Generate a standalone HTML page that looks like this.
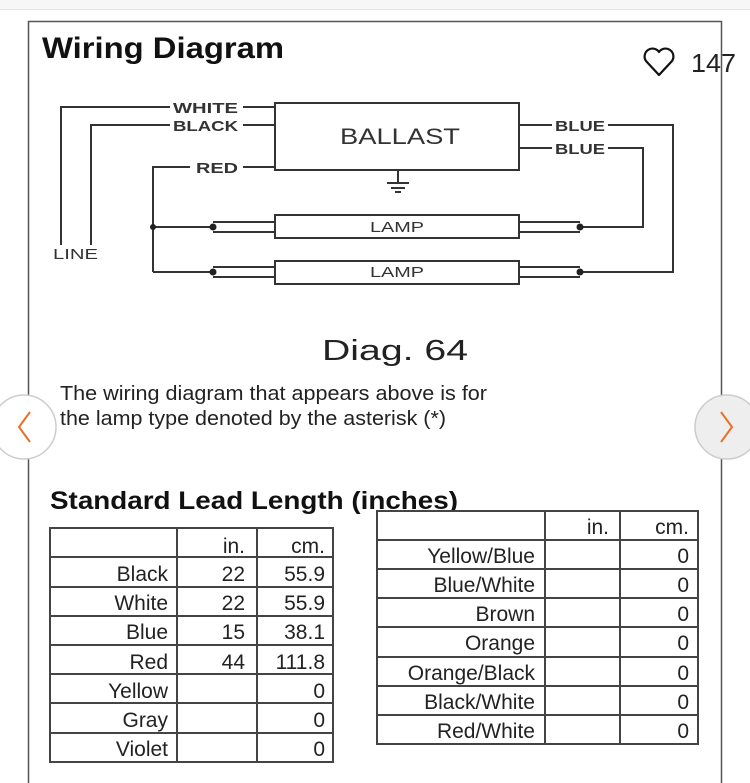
<!DOCTYPE html>
<html><head><meta charset="utf-8"><style>
html,body{margin:0;padding:0;background:#fff;width:750px;height:783px;overflow:hidden}
svg{display:block}
text{font-family:"Liberation Sans",Arial,sans-serif}
</style></head><body>
<svg width="750" height="783" viewBox="0 0 750 783" xmlns="http://www.w3.org/2000/svg">
<rect x="0" y="0" width="750" height="9" fill="#f7f7f7"/>
<line x1="0" y1="9.5" x2="750" y2="9.5" stroke="#e8e8e8"/>
<path d="M28.5 783 V21.5 H721.5 V783" fill="none" stroke="#555" stroke-width="1.5"/>
<text x="42" y="58" font-size="30" font-weight="bold" fill="#111" textLength="242" lengthAdjust="spacingAndGlyphs">Wiring Diagram</text>
<path d="M659 75 L646 61 A7.5 7.5 0 0 1 659 52 A7.5 7.5 0 0 1 672 61 Z" fill="none" stroke="#111" stroke-width="2.2" stroke-linejoin="round"/>
<text x="691" y="72" font-size="26" fill="#222" textLength="45" lengthAdjust="spacingAndGlyphs">147</text>

<g stroke="#333" stroke-width="2" fill="none">
<rect x="275" y="103" width="244" height="67"/>
<path d="M61 245 V107 H170 M243 107 H275"/>
<path d="M91 245 V125 H170 M243 125 H275"/>
<path d="M153 272 V167 H190 M243 167 H275"/>
<path d="M398 170 V183 M387 183 H409 M391 188 H405 M395 192 H401"/>
<rect x="275" y="215" width="244" height="23"/>
<rect x="275" y="261" width="244" height="23"/>
<path d="M213 222 H275 M213 232 H275 M519 222 H580 M519 232 H580"/>
<path d="M213 267 H275 M213 277 H275 M519 267 H580 M519 277 H580"/>
<path d="M153 227 H213 M153 272 H213"/>
<path d="M519 125 H552 M608 125 H673 V272 H580"/>
<path d="M519 148 H552 M608 148 H643 V227 H580"/>
</g>
<g fill="#222">
<circle cx="153" cy="227" r="3"/><circle cx="213" cy="227" r="3.5"/><circle cx="213" cy="272" r="3.5"/>
<circle cx="580" cy="227" r="3.5"/><circle cx="580" cy="272" r="3.5"/>
</g>
<g font-size="15" font-weight="bold" fill="#333" lengthAdjust="spacingAndGlyphs">
<text x="173" y="113" textLength="65" lengthAdjust="spacingAndGlyphs">WHITE</text>
<text x="173" y="131" textLength="65" lengthAdjust="spacingAndGlyphs">BLACK</text>
<text x="196" y="173" textLength="42" lengthAdjust="spacingAndGlyphs">RED</text>
<text x="555" y="131" textLength="50" lengthAdjust="spacingAndGlyphs">BLUE</text>
<text x="555" y="154" textLength="50" lengthAdjust="spacingAndGlyphs">BLUE</text>
<text x="53" y="259" font-weight="normal" textLength="45" lengthAdjust="spacingAndGlyphs">LINE</text>
<text x="370" y="232" font-weight="normal" textLength="54" lengthAdjust="spacingAndGlyphs">LAMP</text>
<text x="370" y="277" font-weight="normal" textLength="54" lengthAdjust="spacingAndGlyphs">LAMP</text>
</g>
<text x="340" y="144" font-size="22" fill="#333" textLength="120" lengthAdjust="spacingAndGlyphs">BALLAST</text>
<text x="322" y="360" font-size="29" fill="#222" textLength="146" lengthAdjust="spacingAndGlyphs">Diag. 64</text>
<text x="60" y="400" font-size="20" fill="#222" textLength="427" lengthAdjust="spacingAndGlyphs">The wiring diagram that appears above is for</text>
<text x="60" y="425" font-size="20" fill="#222" textLength="386" lengthAdjust="spacingAndGlyphs">the lamp type denoted by the asterisk (*)</text>
<text x="50" y="509" font-size="25" font-weight="bold" fill="#111" textLength="408" lengthAdjust="spacingAndGlyphs">Standard Lead Length (inches)</text>

<g stroke="#444" stroke-width="2" fill="none">
<rect x="377" y="511" width="321" height="233" fill="#fff"/>
<path d="M545 511 V744 M620 511 V744"/>
<path d="M377 540 H698 M377 569 H698 M377 598 H698 M377 627 H698 M377 657 H698 M377 686 H698 M377 715 H698"/>
<rect x="50" y="528" width="283" height="234"/>
<path d="M177 528 V762 M257 528 V762"/>
<path d="M50 557 H333 M50 587 H333 M50 616 H333 M50 645 H333 M50 674 H333 M50 703 H333 M50 733 H333"/>
</g>
<g font-size="21" fill="#222" text-anchor="end">
<text x="245" y="553">in.</text><text x="325" y="553">cm.</text>
<text x="168" y="581">Black</text><text x="245" y="581">22</text><text x="325" y="581">55.9</text>
<text x="168" y="610">White</text><text x="245" y="610">22</text><text x="325" y="610">55.9</text>
<text x="168" y="639">Blue</text><text x="245" y="639">15</text><text x="325" y="639">38.1</text>
<text x="168" y="669">Red</text><text x="245" y="669">44</text><text x="325" y="669">111.8</text>
<text x="168" y="698">Yellow</text><text x="325" y="698">0</text>
<text x="168" y="727">Gray</text><text x="325" y="727">0</text>
<text x="168" y="756">Violet</text><text x="325" y="756">0</text>
<text x="609" y="534">in.</text><text x="689" y="534">cm.</text>
<text x="535" y="563">Yellow/Blue</text><text x="689" y="563">0</text>
<text x="535" y="592">Blue/White</text><text x="689" y="592">0</text>
<text x="535" y="621">Brown</text><text x="689" y="621">0</text>
<text x="535" y="650">Orange</text><text x="689" y="650">0</text>
<text x="535" y="680">Orange/Black</text><text x="689" y="680">0</text>
<text x="535" y="709">Black/White</text><text x="689" y="709">0</text>
<text x="535" y="738">Red/White</text><text x="689" y="738">0</text>
</g>

<circle cx="24" cy="427" r="32" fill="#fff" stroke="#ccc" stroke-width="1.5"/>
<path d="M30 412 L19 427 L30 442" fill="none" stroke="#e8702a" stroke-width="2"/>
<circle cx="727" cy="427" r="32" fill="#eee" stroke="#ccc" stroke-width="1.5"/>
<path d="M721 412 L732 427 L721 442" fill="none" stroke="#e8702a" stroke-width="2"/>
</svg>
</body></html>
